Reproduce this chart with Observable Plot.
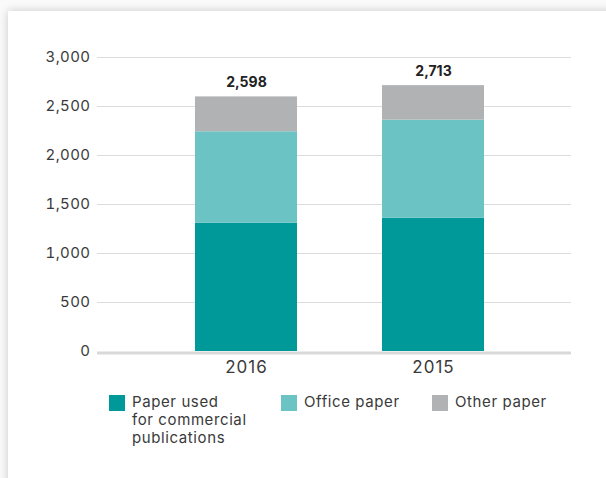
<!DOCTYPE html>
<html>
<head>
<meta charset="utf-8">
<script src="https://cdn.jsdelivr.net/npm/d3@7"></script>
<script src="https://cdn.jsdelivr.net/npm/@observablehq/plot@0.6"></script>
<style>
  html, body { margin: 0; padding: 0; background: #fafafa; width: 606px; height: 478px; overflow: hidden; }
  #card { position: absolute; left: 8px; top: 11px; width: 700px; height: 600px; background: #fff;
          box-shadow: 0 0 9px rgba(0,0,0,0.2); }
  #chart { position: absolute; left: 0; top: 0; }
  .legend { position: absolute; top: 394px; font-family: Inter, "Open Sans", sans-serif; font-size: 15px;
            color: #3a3a3a; line-height: 18px; font-weight: 400; letter-spacing: 0.6px; }
  .legend .sw { position: absolute; left: 0; top: 1px; width: 16px; height: 16px; }
  .legend .lb { position: absolute; left: 23px; top: -1px; white-space: nowrap; }
  #chart svg g[aria-label="y-axis tick label"] text { letter-spacing: 0.4px; }
  #chart svg g[aria-label="x-axis tick label"] text { letter-spacing: 1px; }
</style>
</head>
<body>
<div id="card"></div>
<div id="chart"></div>
<div id="legend"></div>
<script>
const years = ["2016", "2015"];
const series = ["Paper used for commercial publications", "Office paper", "Other paper"];
const seriesLabels = ["Paper used<br>for commercial<br>publications", "Office paper", "Other paper"];
const colors = ["#009999", "#6bc3c3", "#b1b2b4"];
const commercial = [1310, 1361];
const office = [932, 1000];
const other = [356, 352];
const totals = [2598, 2713];
const yTicks = [0, 500, 1000, 1500, 2000, 2500, 3000];

const values = [commercial, office, other];
const data = [];
series.forEach((s, i) => years.forEach((y, j) => data.push({year: y, series: s, value: values[i][j]})));
const totalData = years.map((y, j) => ({year: y, total: totals[j]}));

const chart = Plot.plot({
  width: 606,
  height: 381,
  marginLeft: 97,
  marginRight: 35,
  marginTop: 57,
  marginBottom: 30,
  style: {fontFamily: 'Inter, "Open Sans", sans-serif', color: "#3a3a3a", background: "transparent"},
  x: {domain: years, paddingInner: 0.456, paddingOuter: 0.492, align: 0.53, label: null},
  y: {domain: [0, 3000], ticks: yTicks, label: null, tickFormat: d3.format(",")},
  color: {domain: series, range: colors},
  marks: [
    Plot.ruleY(yTicks.filter(d => d > 0), {stroke: "#dcdcdc", strokeWidth: 1, strokeOpacity: 1}),
    Plot.barY(data, {x: "year", y: "value", fill: "series"}),
    Plot.ruleY([0], {stroke: "#d9d9d9", strokeWidth: 3, dy: 1.5}),
    Plot.text(totalData, {x: "year", y: "total", text: d => d3.format(",")(d.total), dy: -14,
      fontWeight: "bold", fontSize: 14, fill: "#222"}),
    Plot.axisY({ticks: yTicks, tickSize: 0, tickPadding: 7, fontSize: 15, tickFormat: d3.format(","), label: null}),
    Plot.axisX({tickSize: 0, tickPadding: 9, fontSize: 17, label: null})
  ]
});
document.getElementById("chart").appendChild(chart);

const legendX = [109, 281, 432];
const leg = document.getElementById("legend");
series.forEach((s, i) => {
  const d = document.createElement("div");
  d.className = "legend";
  d.style.left = legendX[i] + "px";
  d.innerHTML = `<div class="sw" style="background:${colors[i]}"></div><div class="lb">${seriesLabels[i]}</div>`;
  leg.appendChild(d);
});
</script>
</body>
</html>
